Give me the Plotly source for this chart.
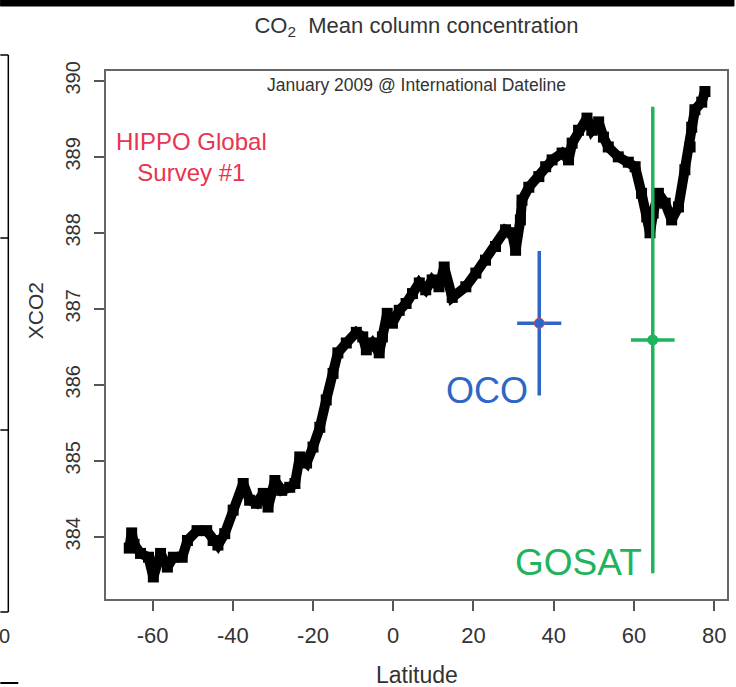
import plotly.graph_objects as go

# ---- data ----
lat = [-65.8, -65.2, -64.6, -63.0, -61.0, -59.8, -58.0, -56.3, -54.8, -52.6,
       -51.3, -48.9, -46.5, -44.9, -43.7, -42.0, -39.9, -37.4, -35.8, -34.1,
       -32.4, -31.2, -29.5, -27.8, -25.8, -24.5, -23.3, -21.6, -20.0, -18.3,
       -16.7, -15.0, -13.8, -11.7, -9.2, -7.6, -6.7, -5.2, -3.5, -2.7,
       -1.5, -0.2, 1.5, 3.2, 4.8, 6.5, 8.1, 9.7, 11.4, 12.7,
       14.7, 18.1, 20.6, 23.0, 25.5, 28.0, 29.6, 30.5, 31.7, 32.1,
       33.8, 36.3, 38.0, 39.6, 42.1, 43.7, 44.6, 46.2, 48.3, 49.5,
       51.2, 52.4, 53.6, 56.1, 58.6, 60.3, 61.9, 63.2, 64.0, 64.8,
       66.1, 67.8, 69.4, 71.1, 72.7, 74.0, 74.4, 75.2, 76.9, 77.7]
xco2 = [383.85, 384.05, 383.90, 383.78, 383.73, 383.47, 383.78, 383.60, 383.73, 383.73,
        383.95, 384.08, 384.08, 383.95, 383.89, 384.04, 384.35, 384.70, 384.48, 384.44,
        384.57, 384.39, 384.74, 384.61, 384.65, 384.70, 385.05, 384.97, 385.18, 385.44,
        385.80, 386.15, 386.42, 386.55, 386.69, 386.63, 386.46, 386.55, 386.42, 386.63,
        386.94, 386.81, 386.98, 387.07, 387.20, 387.34, 387.25, 387.38, 387.29, 387.55,
        387.15, 387.29, 387.47, 387.64, 387.82, 388.04, 388.00, 387.77, 388.17, 388.43,
        388.60, 388.74, 388.87, 388.96, 389.05, 388.96, 389.18, 389.35, 389.51, 389.35,
        389.46, 389.26, 389.13, 389.00, 388.93, 388.87, 388.52, 388.21, 388.00, 388.26,
        388.52, 388.39, 388.17, 388.34, 388.83, 389.13, 389.39, 389.62, 389.72, 389.86]

oco_lat = [36.4]
oco_val = [386.81]
oco_err_lat = [5.5]
oco_err_val = [0.95]

gosat_lat = [64.7]
gosat_val = [386.59]
gosat_err_lat = [5.45]
gosat_err_val = [3.07]

x_ticks = [-60, -40, -20, 0, 20, 40, 60, 80]
x_tick_labels = ["-60", "-40", "-20", "0", "20", "40", "60", "80"]
y_ticks = [384, 385, 386, 387, 388, 389, 390]
y_tick_labels = ["384", "385", "386", "387", "388", "389", "390"]

BLUE = "#2d66c6"
GREEN = "#1fb45c"
RED = "#e8344e"
TXT = "#333333"
FONT = "Liberation Sans, Arial, sans-serif"

W, H = 736, 687
ML, MR, MT, MB = 106, 7, 71, 88
PW, PH = W - ML - MR, H - MT - MB


def px(x, y):
    return (x - ML) / PW, (H - MB - y) / PH


fig = go.Figure()
fig.add_trace(go.Scatter(x=lat, y=xco2, mode="lines+markers",
                         line=dict(color="black", width=10),
                         marker=dict(symbol="square", size=11, color="black"),
                         showlegend=False, hoverinfo="x+y"))
fig.add_trace(go.Scatter(x=oco_lat, y=oco_val, mode="markers",
                         marker=dict(color=BLUE, size=10, line=dict(color="#c0506a", width=1)),
                         error_x=dict(type="data", array=oco_err_lat, color=BLUE, thickness=3.5, width=0),
                         error_y=dict(type="data", array=oco_err_val, color=BLUE, thickness=3.5, width=0),
                         showlegend=False))
fig.add_trace(go.Scatter(x=gosat_lat, y=gosat_val, mode="markers",
                         marker=dict(color=GREEN, size=11),
                         error_x=dict(type="data", array=gosat_err_lat, color=GREEN, thickness=3.5, width=0),
                         error_y=dict(type="data", array=gosat_err_val, color=GREEN, thickness=3.5, width=0),
                         showlegend=False))

ann = []
ann.append(dict(x=0.5, xref="paper", y=389.95, yref="y", text="January 2009 @ International Dateline",
                showarrow=False, font=dict(family=FONT, size=17.5, color=TXT), xanchor="center", yanchor="middle"))
ann.append(dict(x=-50.4, y=389.0, text="HIPPO Global<br>Survey #1", showarrow=False,
                font=dict(family=FONT, size=24, color=RED), xanchor="center", yanchor="middle"))
ann.append(dict(x=23.4, y=385.93, text="OCO", showarrow=False,
                font=dict(family=FONT, size=36, color=BLUE), xanchor="center", yanchor="middle"))
ann.append(dict(x=46.3, y=383.66, text="GOSAT", showarrow=False,
                font=dict(family=FONT, size=37, color=GREEN), xanchor="center", yanchor="middle"))
lx, ly = px(417, 675)
ann.append(dict(x=0.5, y=ly, xref="paper", yref="paper", text="Latitude", showarrow=False,
                font=dict(family=FONT, size=23, color=TXT), xanchor="center", yanchor="middle"))
yx, yy = px(35, 311)
ann.append(dict(x=yx, y=yy, xref="paper", yref="paper", text="XCO2", showarrow=False, textangle=-90,
                font=dict(family=FONT, size=21, color=TXT), xanchor="center", yanchor="middle"))
zx, zy = px(4, 636)
ann.append(dict(x=zx, y=zy, xref="paper", yref="paper", text="0", showarrow=False,
                font=dict(family=FONT, size=20, color=TXT), xanchor="center", yanchor="middle"))

shapes = []
# black bar at top
x0, y0 = px(0, 0)
x1, y1 = px(W, 6)
shapes.append(dict(type="rect", xref="paper", yref="paper", x0=x0, y0=y0, x1=x1, y1=y1,
                   fillcolor="black", line=dict(width=1, color="black"), layer="above"))
# fragment of neighbouring panel at the left edge
fx, ftop = px(8, 55)
fl, fbot = px(0, 612)
shapes.append(dict(type="line", xref="paper", yref="paper", x0=fx, x1=fx, y0=ftop, y1=fbot,
                   line=dict(color="black", width=1.5)))
for yy_ in [55, 238, 430, 612]:
    _, pyy = px(0, yy_)
    shapes.append(dict(type="line", xref="paper", yref="paper", x0=fl, x1=fx, y0=pyy, y1=pyy,
                       line=dict(color="black", width=1.5)))
bx0, by = px(0, 683)
bx1, _ = px(18, 683)
shapes.append(dict(type="line", xref="paper", yref="paper", x0=bx0, x1=bx1, y0=by, y1=by,
                   line=dict(color="black", width=2)))

fig.update_layout(
    width=W, height=H,
    margin=dict(l=ML, r=MR, t=MT, b=MB),
    paper_bgcolor="white", plot_bgcolor="white",
    title=dict(text="CO<sub>2</sub>  Mean column concentration", x=0.5, xref="paper",
               y=1 - 25 / H, yref="container", xanchor="center", yanchor="middle",
               font=dict(family=FONT, size=22, color=TXT)),
    xaxis=dict(range=[-71.6, 83.2], tickvals=x_ticks, ticktext=x_tick_labels, ticks="outside", ticklen=10,
               tickcolor="#555", tickwidth=1.5, showline=True, linecolor="#666", linewidth=1.5,
               mirror=True, showgrid=False, zeroline=False, ticklabelstandoff=6,
               tickfont=dict(family=FONT, size=22, color=TXT)),
    yaxis=dict(range=[383.18, 390.13], tickvals=y_ticks, ticktext=y_tick_labels, ticks="outside", ticklen=10,
               tickcolor="#555", tickwidth=1.5, showline=True, linecolor="#666", linewidth=1.5,
               mirror=True, showgrid=False, zeroline=False, tickangle=-90, ticklabelstandoff=6,
               tickfont=dict(family=FONT, size=20, color=TXT)),
    annotations=ann, shapes=shapes,
)

fig.write_html("out.html", config={"displayModeBar": False},
               post_script="document.body.style.margin='0px';document.body.style.overflow='hidden';")
